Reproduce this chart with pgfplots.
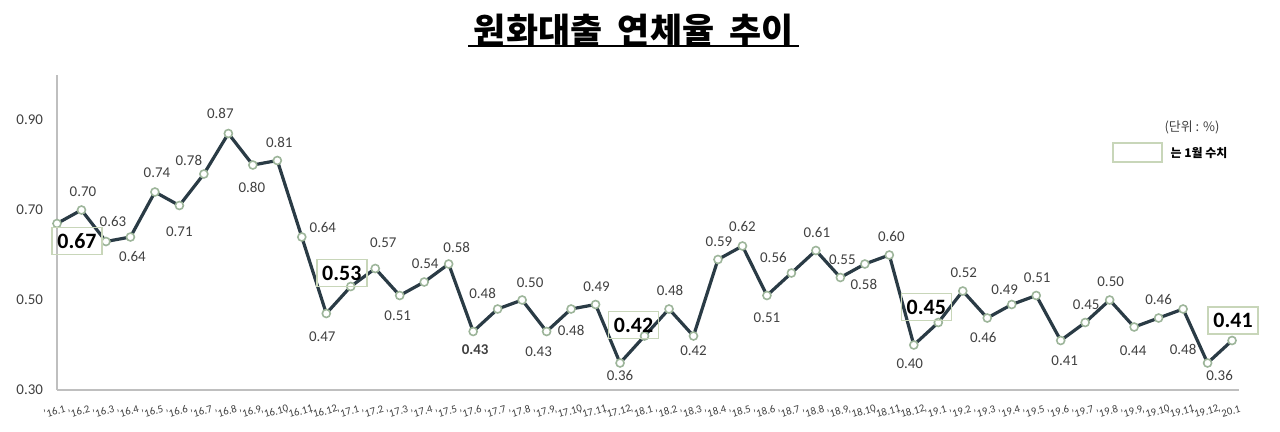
\documentclass[border=0pt]{standalone}
\usepackage{pgfplots}
\pgfplotsset{compat=1.18}
\usepackage{pgfplotstable}
\usepackage{fontspec}
\setmainfont{Carlito}
\newfontfamily\kr{Noto Sans CJK KR}
\definecolor{linec}{HTML}{2A3B45}
\definecolor{markc}{HTML}{9DB59A}
\definecolor{boxc}{HTML}{C8D6B9}
\definecolor{txt}{HTML}{404040}
\definecolor{axc}{HTML}{BFBFBF}

\pgfplotstableread{
x y
0 0.67
1 0.70
2 0.63
3 0.64
4 0.74
5 0.71
6 0.78
7 0.87
8 0.80
9 0.81
10 0.64
11 0.47
12 0.53
13 0.57
14 0.51
15 0.54
16 0.58
17 0.43
18 0.48
19 0.50
20 0.43
21 0.48
22 0.49
23 0.36
24 0.42
25 0.48
26 0.42
27 0.59
28 0.62
29 0.51
30 0.56
31 0.61
32 0.55
33 0.58
34 0.60
35 0.40
36 0.45
37 0.52
38 0.46
39 0.49
40 0.51
41 0.41
42 0.45
43 0.50
44 0.44
45 0.46
46 0.48
47 0.36
48 0.41
}\alldata

\pgfplotstableread{
x y dx dy
1 0.70 0.75 9
2 0.63 3.5 10
3 0.64 1 -10
4 0.74 1 9.5
5 0.71 0 -13.25
6 0.78 -7.5 7
7 0.87 -4 10
8 0.80 -0.5 -11
9 0.81 1 9
10 0.64 10.5 4.5
11 0.47 -2 -11.5
13 0.57 4 13
14 0.51 -1 -10
15 0.54 0.5 9
16 0.58 4 8.5
18 0.48 -7.5 8
19 0.50 4 8.5
20 0.43 -4 -10
21 0.48 0 -10.5
22 0.49 0.5 9
23 0.36 0 -6.5
25 0.48 0.5 9.5
26 0.42 0 -7.5
27 0.59 0.5 9
28 0.62 0 9.5
29 0.51 0 -11
30 0.56 -9 7.5
31 0.61 0.5 9
32 0.55 1 9
33 0.58 -0.5 -10
34 0.60 1 9
35 0.40 -2 -9.5
37 0.52 0.5 9
38 0.46 -2 -10
39 0.49 -3.5 7.5
40 0.51 0.5 9
41 0.41 2 -10
42 0.45 0.5 8.75
43 0.50 0.5 9
44 0.44 -0.5 -12
45 0.46 0 9
46 0.48 0 -20
47 0.36 6 -6.5
}\labs

\pgfplotstableread{
x y dx dy
17 0.43 1 -9.25
}\boldlabs

\pgfplotstableread{
x y dx dy
0 0.67 10 -8.75
12 0.53 -4.5 6.75
24 0.42 -5.5 5.5
36 0.45 -6 7.75
48 0.41 0.5 10
}\janlabs

\begin{document}
\begin{tikzpicture}
\useasboundingbox (0,0) rectangle (640bp,216bp);
\begin{axis}[
  at={(28.5bp,21bp)}, anchor=south west,
  scale only axis, width=591.2bp, height=157.5bp,
  xmin=0, xmax=48.3, ymin=0.30, ymax=1.00,
  clip=false,
  axis x line*=bottom, axis y line*=left,
  axis line style={-, draw=axc, line width=0.9bp},
  major tick length=0pt,
  /pgf/number format/assume math mode=true,
  ytick={0.3,0.5,0.7,0.9},
  yticklabel={\pgfmathprintnumber[fixed,fixed zerofill,precision=2]{\tick}},
  yticklabel style={font=\fontsize{7.5}{8}\selectfont, text=txt, xshift=-3.5bp},
  xtick={0,...,48},
  xticklabels={'16.1,'16.2,'16.3,'16.4,'16.5,'16.6,'16.7,'16.8,'16.9,'16.10,'16.11,'16.12,
    '17.1,'17.2,'17.3,'17.4,'17.5,'17.6,'17.7,'17.8,'17.9,'17.10,'17.11,'17.12,
    '18.1,'18.2,'18.3,'18.4,'18.5,'18.6,'18.7,'18.8,'18.9,'18.10,'18.11,'18.12,
    '19.1,'19.2,'19.3,'19.4,'19.5,'19.6,'19.7,'19.8,'19.9,'19.10,'19.11,'19.12,'20.1},
  xticklabel style={font=\fontsize{5.4}{6}\selectfont, text=txt, rotate=15, anchor=center, yshift=-10bp, xshift=-4bp},
]
\addplot[linec, line width=1.6bp, mark=*, mark size=2bp,
  mark options={fill=white, draw=markc, line width=0.8bp}]
  table[x=x,y=y]{\alldata};

\addplot[draw=none, mark=none,
  nodes near coords={\pgfmathprintnumber[fixed,fixed zerofill,precision=2]{\pgfplotspointmeta}},
  visualization depends on={\thisrow{dx}\as\dx},
  visualization depends on={\thisrow{dy}\as\dy},
  every node near coord/.append style={anchor=center, xshift=\dx bp, yshift=\dy bp,
    font=\fontsize{7.5}{8}\selectfont, text=txt, inner sep=0pt}]
  table[x=x,y=y]{\labs};

\addplot[draw=none, mark=none,
  nodes near coords={\pgfmathprintnumber[fixed,fixed zerofill,precision=2]{\pgfplotspointmeta}},
  visualization depends on={\thisrow{dx}\as\dx},
  visualization depends on={\thisrow{dy}\as\dy},
  every node near coord/.append style={anchor=center, xshift=\dx bp, yshift=\dy bp,
    font=\bfseries\fontsize{7.5}{8}\selectfont, text=txt, inner sep=0pt}]
  table[x=x,y=y]{\boldlabs};

\addplot[draw=none, mark=none,
  nodes near coords={\pgfmathprintnumber[fixed,fixed zerofill,precision=2]{\pgfplotspointmeta}},
  visualization depends on={\thisrow{dx}\as\dx},
  visualization depends on={\thisrow{dy}\as\dy},
  every node near coord/.append style={anchor=center, xshift=\dx bp, yshift=\dy bp,
    font=\bfseries\fontsize{11}{12}\selectfont, text=black, draw=boxc, line width=0.8bp,
    minimum width=25bp, minimum height=13.5bp, inner xsep=2.5bp, inner ysep=0pt}]
  table[x=x,y=y]{\janlabs};
\end{axis}
\node[font=\kr\bfseries\fontsize{17.5}{20}\selectfont, inner sep=0pt] at (317bp,201bp)
  {원화대출\hspace{0.45em}연체율\hspace{0.45em}추이};
\draw[line width=1bp] (234bp,192.75bp) -- (399.5bp,192.75bp);
\node[font=\kr\fontsize{6.5}{7}\selectfont, text=txt, inner sep=0pt] at (596bp,152.5bp) {(단위 : \%)};
\draw[boxc, line width=0.8bp] (556.5bp,135bp) rectangle (581bp,144.5bp);
\node[font=\kr\bfseries\fontsize{6}{7}\selectfont, text=black, inner sep=0pt] at (599.5bp,139.5bp) {는 1월 수치};
\end{tikzpicture}
\end{document}
